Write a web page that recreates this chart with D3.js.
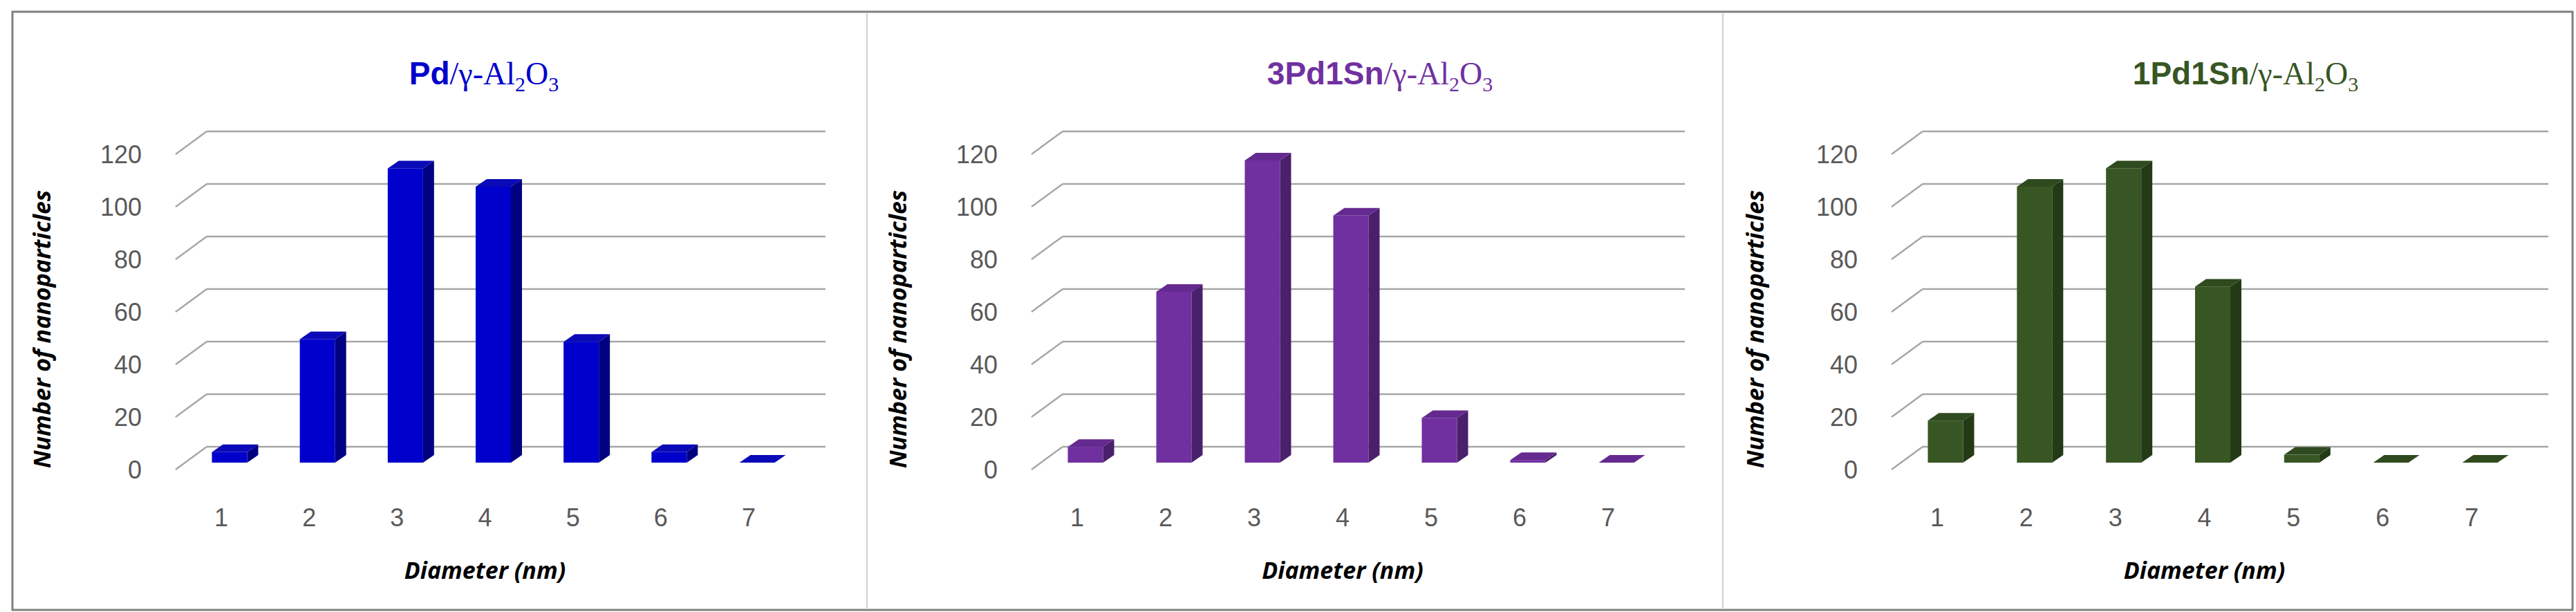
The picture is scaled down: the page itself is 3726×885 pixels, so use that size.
<!DOCTYPE html>
<html><head><meta charset="utf-8">
<script src="https://cdn.jsdelivr.net/npm/d3@7"></script>
<style>body{margin:0;background:#fff}</style></head>
<body><svg id="c" width="3726" height="885"></svg>
<script>
const categories = ["1","2","3","4","5","6","7"];
const yTicks = [0,20,40,60,80,100,120];
const pdValues = [4,47,112,105,46,4,0];
const pd3sn1Values = [6,65,115,94,17,1,0];
const pd1sn1Values = [16,105,112,67,3,0,0];
const titles = [["Pd","/γ-Al","2","O","3"],["3Pd1Sn","/γ-Al","2","O","3"],["1Pd1Sn","/γ-Al","2","O","3"]];

const svg = d3.select("#c");
const panels = [
  {vals:pdValues, t:titles[0], x0:320, x1:1083, titleX:700, yTitleX:64, front:"#0000CC", side:"#000080", top:"#0a0ab8"},
  {vals:pd3sn1Values, t:titles[1], x0:1558, x1:2326, titleX:1996, yTitleX:1302, front:"#7030A0", side:"#4a1f6b", top:"#642a90"},
  {vals:pd1sn1Values, t:titles[2], x0:2802, x1:3575, titleX:3248, yTitleX:2542, front:"#375623", side:"#243a17", top:"#2f4a1e"}
];
// frame
svg.append("rect").attr("x",18).attr("y",17).attr("width",3703).attr("height",865).attr("fill","none").attr("stroke","#808080").attr("stroke-width",3);
[1254,2492].forEach(x=>svg.append("line").attr("x1",x).attr("x2",x).attr("y1",18).attr("y2",881).attr("stroke","#d0d0d0").attr("stroke-width",2));

const y = d3.scaleLinear().domain([0,120]).range([669,213]);
panels.forEach(p=>{
  const x = d3.scalePoint().domain(categories).range([p.x0,p.x1]);
  const g = svg.append("g");
  const backL = p.x0-21, backR = p.x1+111;
  yTicks.forEach(v=>{
    const yb = y(v)-23;
    g.append("line").attr("x1",backL).attr("x2",backR).attr("y1",yb).attr("y2",yb).attr("stroke","#a6a6a6").attr("stroke-width",2.5);
    g.append("line").attr("x1",backL-45).attr("x2",backL).attr("y1",yb+33).attr("y2",yb).attr("stroke","#a6a6a6").attr("stroke-width",2.5);
    g.append("text").attr("x",backL-94).attr("y",y(v)+13).attr("text-anchor","end").attr("dominant-baseline","middle")
      .attr("font-family","Liberation Sans Narrow, Liberation Sans, sans-serif").attr("font-size",36).attr("fill","#595959").text(v);
  });
  categories.forEach((c,i)=>{
    g.append("text").attr("x",x(c)).attr("y",751).attr("text-anchor","middle").attr("dominant-baseline","middle")
      .attr("font-family","Liberation Sans Narrow, Liberation Sans, sans-serif").attr("font-size",36).attr("fill","#595959").text(c);
    const v = p.vals[i], w=51, dx=16, dy=11;
    const xl = x(c)+12-w/2, yt = y(v), yb = y(0);
    if (yb-yt>0.5) g.append("rect").attr("x",xl).attr("y",yt).attr("width",w).attr("height",yb-yt).attr("fill",p.front);
    g.append("path").attr("d",`M${xl+w},${yt}L${xl+w+dx},${yt-dy}L${xl+w+dx},${yb-dy}L${xl+w},${yb}Z`).attr("fill",p.side);
    g.append("path").attr("d",`M${xl},${yt}L${xl+dx},${yt-dy}L${xl+w+dx},${yt-dy}L${xl+w},${yt}Z`).attr("fill",p.top);
  });
  const t = g.append("text").attr("x",p.titleX).attr("y",122).attr("text-anchor","middle").attr("fill",p.front).attr("font-size",46).attr("font-weight","bold");
  t.append("tspan").attr("font-family","Liberation Sans Narrow, Liberation Sans, sans-serif").text(p.t[0]);
  t.append("tspan").attr("font-family","Liberation Serif, serif").attr("font-weight","normal").text(p.t[1]);
  t.append("tspan").attr("font-family","Liberation Serif, serif").attr("font-weight","normal").attr("font-size",30).attr("dy",10).text(p.t[2]);
  t.append("tspan").attr("font-family","Liberation Serif, serif").attr("font-weight","normal").attr("dy",-10).text(p.t[3]);
  t.append("tspan").attr("font-family","Liberation Serif, serif").attr("font-weight","normal").attr("font-size",30).attr("dy",10).text(p.t[4]);
  g.append("text").attr("x",(p.x0+p.x1)/2+0).attr("y",828).attr("text-anchor","middle").attr("dominant-baseline","middle")
    .attr("font-family","Open Sans, sans-serif").attr("font-size",34).attr("font-weight","bold").attr("font-style","italic").text("Diameter (nm)");
  g.append("text").attr("transform",`translate(${p.yTitleX},476) rotate(-90)`).attr("text-anchor","middle").attr("dominant-baseline","middle")
    .attr("font-family","Open Sans, sans-serif").attr("font-size",34).attr("font-weight","bold").attr("font-style","italic").text("Number of nanoparticles");
});
</script></body></html>
